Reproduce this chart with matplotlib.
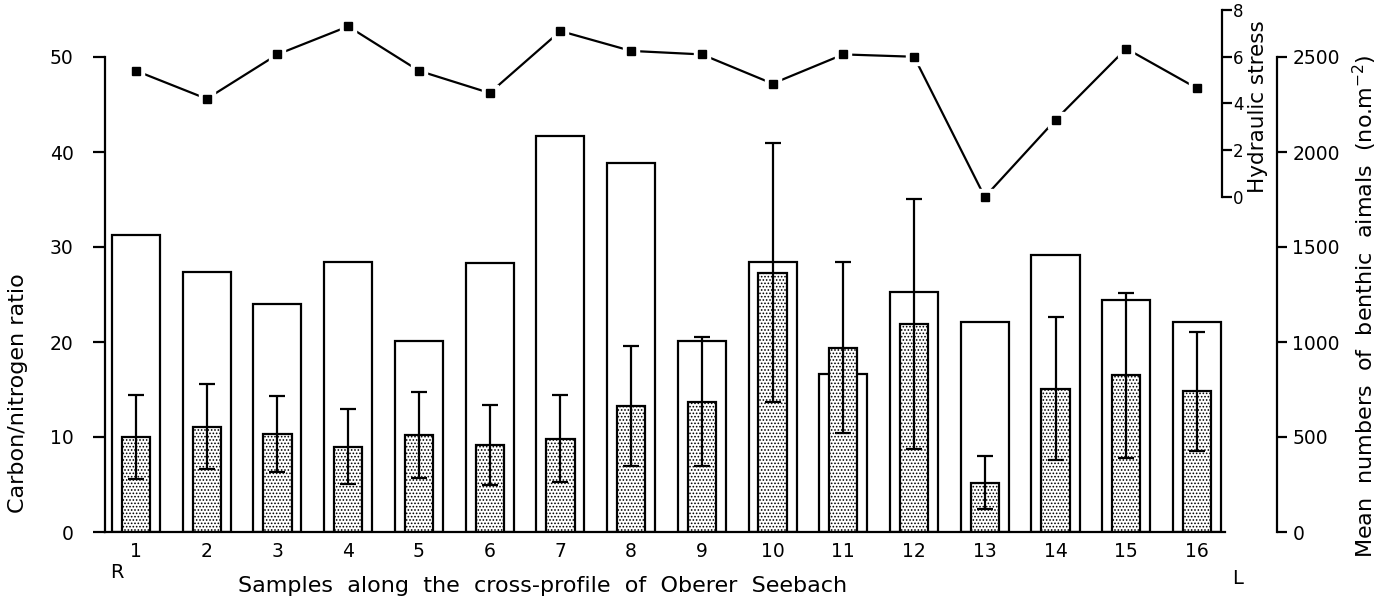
import numpy as np
import matplotlib
matplotlib.use("Agg")
import matplotlib.pyplot as plt

# sample positions across the stream profile (R = right bank, L = left bank)
samples = list(range(1, 17))
sample_labels = [str(s) for s in samples]

# carbon/nitrogen ratio of the sediment (open bars)
cn_ratio = [31.3, 27.4, 24.0, 28.4, 20.1, 28.3, 41.7, 38.8,
            20.1, 28.4, 16.6, 25.3, 22.1, 29.2, 24.4, 22.1]

# mean benthic animals per m2 and standard deviation (stippled bars)
benthos_mean = [500, 555, 515, 450, 510, 458, 491, 665,
                685, 1365, 970, 1095, 260, 755, 825, 740]
benthos_sd = [220, 225, 200, 195, 225, 210, 230, 315,
              340, 680, 450, 660, 140, 375, 435, 315]

# hydraulic stress (line)
hydraulic = [5.4, 4.2, 6.1, 7.3, 5.4, 4.45, 7.1, 6.25,
             6.1, 4.85, 6.1, 6.0, 0.0, 3.3, 6.35, 4.65]

cn_ticks = [0, 10, 20, 30, 40, 50]
benthos_ticks = [0, 500, 1000, 1500, 2000, 2500]
hydraulic_ticks = [0, 2, 4, 6, 8]

plt.rcParams['font.family'] = ['DejaVu Sans']
plt.rcParams['hatch.linewidth'] = 0.75

W, H = 1385, 605
fig = plt.figure(figsize=(W / 100, H / 100), dpi=100)

# pixel layout helpers
ax_left, ax_right = 105, 1225
ax_top, ax_bottom = 57, 532
def fx(px):
    return px / W
def fy(py):
    return 1 - py / H

ax = fig.add_axes([fx(ax_left), fy(ax_bottom), fx(ax_right - ax_left), (ax_bottom - ax_top) / H])
x = np.array(samples)
ax.set_xlim(0.562, 16.396)
ax.set_ylim(0, 50)

lw = 1.6
ax.bar(x, cn_ratio, width=0.68, facecolor='white', edgecolor='black', linewidth=lw, zorder=2)

for side in ['top', 'right']:
    ax.spines[side].set_visible(False)
ax.spines['left'].set_linewidth(lw)
ax.spines['bottom'].set_linewidth(lw)
ax.set_yticks(cn_ticks)
ax.tick_params(axis='y', direction='out', length=8.5, width=lw, pad=14, labelsize=13.5)
ax.set_xticks(x)
ax.set_xticklabels(sample_labels)
ax.tick_params(axis='x', length=0, pad=7, labelsize=13.5)

ax.text(-0.0777, 0.293, 'Carbon/nitrogen ratio', transform=ax.transAxes,
        rotation=90, ha='center', va='center', fontsize=16)
ax.text(0.391, -0.114, 'Samples  along  the  cross-profile  of  Oberer  Seebach',
        transform=ax.transAxes, ha='center', va='center', fontsize=16)
ax.text(0.0107, -0.086, 'R', transform=ax.transAxes, ha='center', va='center', fontsize=14)
ax.text(1.0116, -0.097, 'L', transform=ax.transAxes, ha='center', va='center', fontsize=14)

# benthic animals on a second scale, spine pushed out to the right
ax2 = ax.twinx()
ax2.set_ylim(0, 2500)
ax2.bar(x, benthos_mean, width=0.4, facecolor='white', edgecolor='black',
        hatch='.....', linewidth=lw, zorder=2)
ax2.errorbar(x, benthos_mean, yerr=benthos_sd, fmt='none', ecolor='black',
             elinewidth=lw, capsize=6, capthick=lw, zorder=3)
for side in ['top', 'left', 'bottom']:
    ax2.spines[side].set_visible(False)
ax2.spines['right'].set_position(('axes', (1277 - ax_left) / (ax_right - ax_left)))
ax2.spines['right'].set_linewidth(lw)
ax2.set_yticks(benthos_ticks)
ax2.tick_params(axis='y', direction='out', length=7, width=lw, pad=4, labelsize=13.5)
ax2.text((1365 - ax_left) / (ax_right - ax_left), 0.476,
         'Mean  numbers  of  benthic  aimals  (no.m$^{-2}$)',
         transform=ax2.transAxes, rotation=90, ha='center', va='center', fontsize=16)

# hydraulic stress line in the upper part of the figure
h_top, h_bottom = 10, 197
ax3 = fig.add_axes([fx(ax_left), fy(h_bottom), fx(ax_right - ax_left), (h_bottom - h_top) / H])
ax3.set_xlim(ax.get_xlim())
ax3.set_ylim(0, 8)
ax3.patch.set_visible(False)
for side in ['top', 'left', 'bottom']:
    ax3.spines[side].set_visible(False)
ax3.spines['right'].set_position(('axes', (1222 - ax_left) / (ax_right - ax_left)))
ax3.spines['right'].set_linewidth(lw)
ax3.set_xticks([])
ax3.yaxis.tick_right()
ax3.set_yticks(hydraulic_ticks)
ax3.tick_params(axis='y', direction='out', length=7, width=lw, pad=1, labelsize=12)
ax3.plot(x, hydraulic, color='black', linewidth=lw, clip_on=False, zorder=2)
ax3.plot(x, hydraulic, linestyle='none', marker='s', markersize=11,
         color='white', clip_on=False, zorder=3)
ax3.plot(x, hydraulic, linestyle='none', marker='s', markersize=6,
         color='black', clip_on=False, zorder=4)
ax3.text((1258 - ax_left) / (ax_right - ax_left), 0.484, 'Hydraulic stress',
         transform=ax3.transAxes, rotation=90, ha='center', va='center', fontsize=15.5)

fig.savefig('out.png', dpi=100)
